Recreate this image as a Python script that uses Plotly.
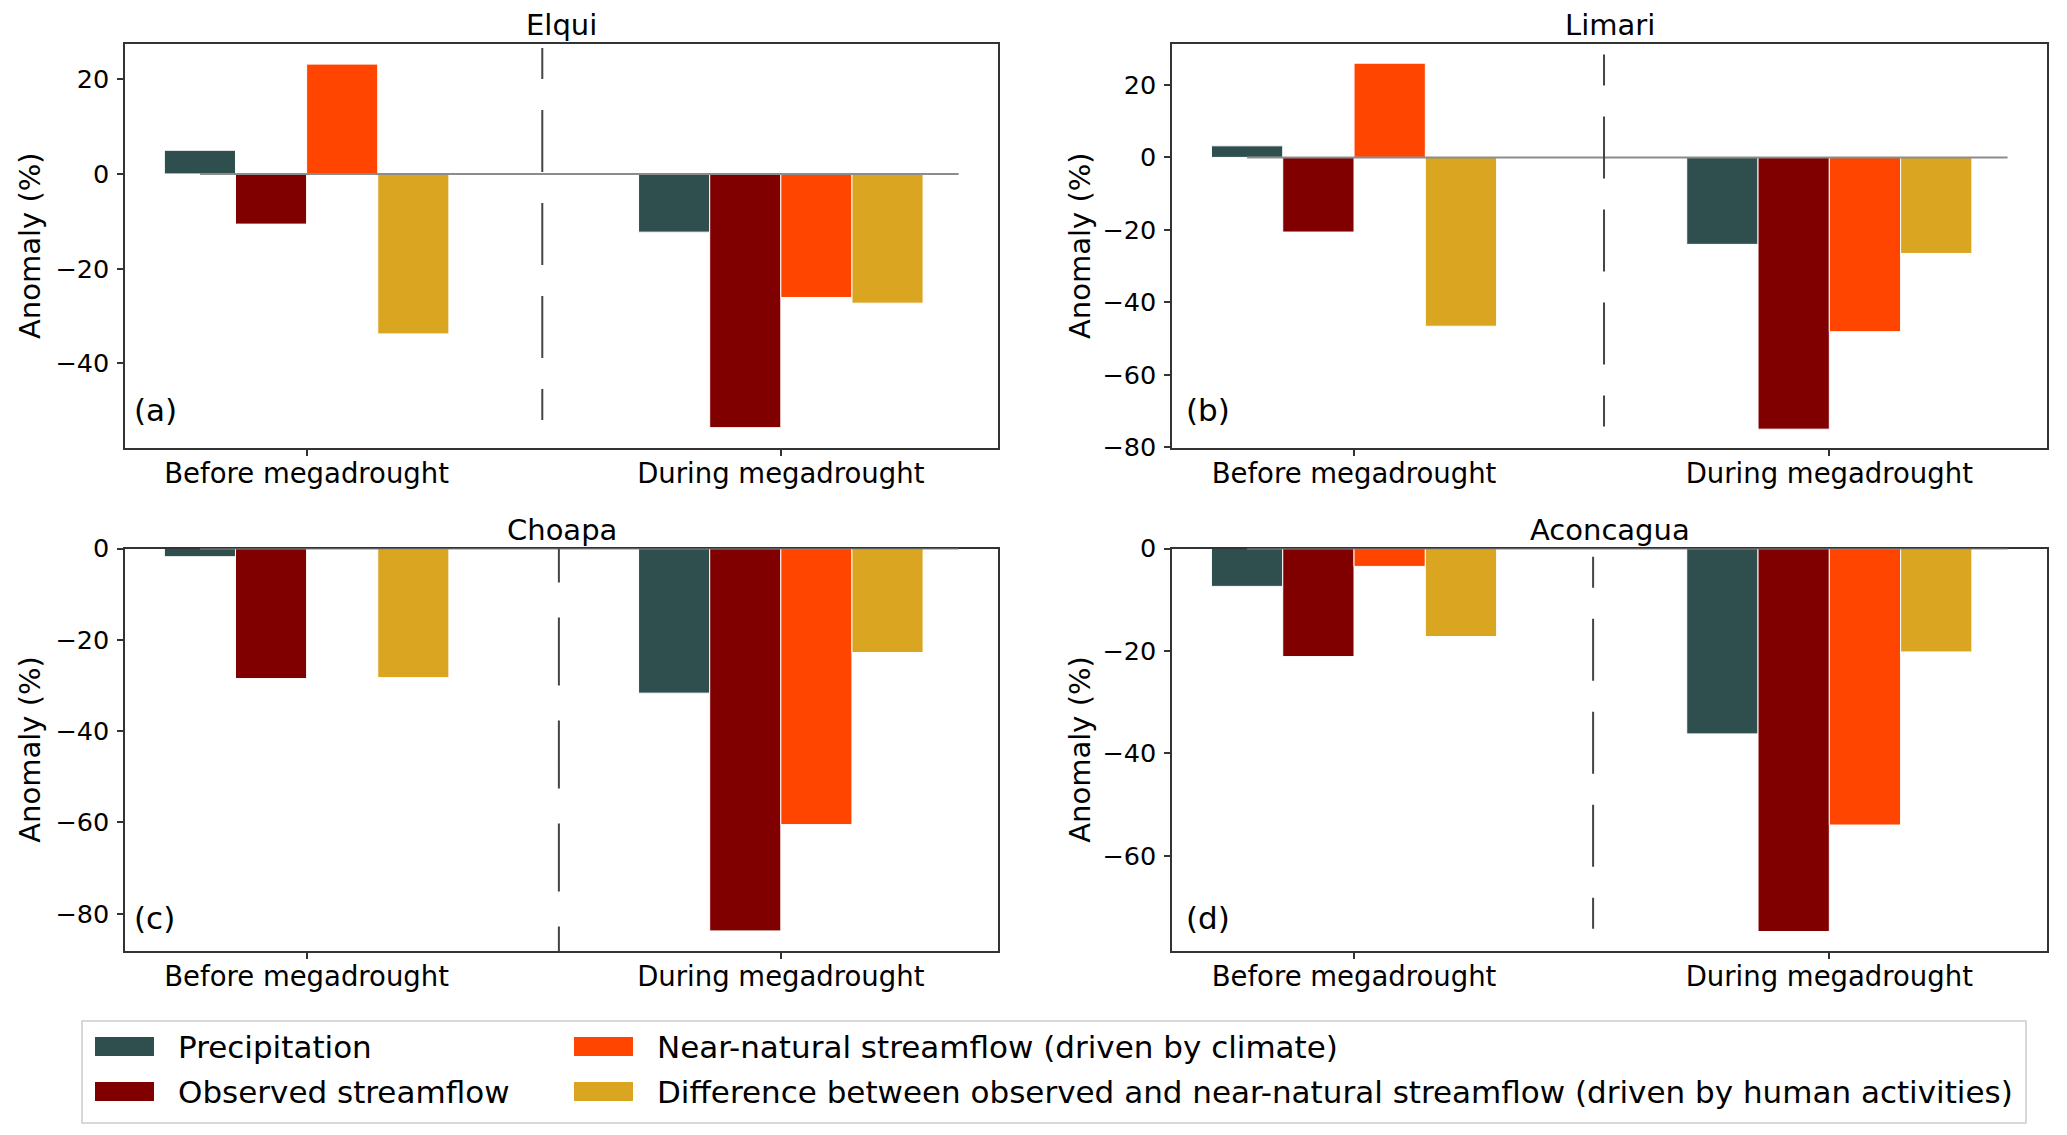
import plotly.graph_objects as go
from plotly.subplots import make_subplots

categories = ["Before megadrought", "During megadrought"]
basins = ["Elqui", "Limari", "Choapa", "Aconcagua"]
panel_labels = ["(a)", "(b)", "(c)", "(d)"]

series_names = [
    "Precipitation",
    "Observed streamflow",
    "Near-natural streamflow (driven by climate)",
    "Difference between observed and near-natural streamflow (driven by human activities)",
]
series_colors = ["#2f4f4f", "#800000", "#ff4500", "#daa520"]

# anomaly (%) per basin, [before, during]
precipitation = [[5.0, -12.3], [3.2, -24.0], [-1.8, -31.7], [-7.4, -36.2]]
observed = [[-10.6, -53.6], [-20.6, -75.0], [-28.5, -83.8], [-21.1, -74.8]]
near_natural = [[23.2, -26.1], [26.0, -48.1], [-0.2, -60.5], [-3.5, -54.0]]
difference = [[-33.8, -27.3], [-46.6, -26.5], [-28.3, -22.8], [-17.2, -20.2]]

# axis limits and the dashed separator of each panel
y_ranges = [[-57.9, 27.45], [-80.2, 31.3], [-88.2, 0], [-78.6, 0]]
sep_x = [0.497, 0.526, 0.532, 0.503]
sep_y = [[26.6, -52.6], [28.4, -75.5], [0, -90], [-1.6, -75.6]]

W, H = 2067, 1135
FONT = "DejaVu Sans"
series = [precipitation, observed, near_natural, difference]


def dash_pattern(dash, gap):
    # half dash at both ends, like the original separators
    parts = [dash / 2, gap] + [dash, gap] * 3 + [dash / 2, gap]
    return ",".join(f"{p:g}px" for p in parts)


sep_dash = [dash_pattern(62, 31), dash_pattern(62, 31), dash_pattern(68, 35), dash_pattern(62, 31)]

fig = make_subplots(rows=2, cols=2)

for i, basin in enumerate(basins):
    row, col = i // 2 + 1, i % 2 + 1
    for name, vals, color in zip(series_names, series, series_colors):
        fig.add_trace(go.Bar(x=categories, y=vals[i], name=name,
                             marker=dict(color=color, line=dict(color="white", width=1)),
                             showlegend=False), row=row, col=col)

x_domains = [[125 / W, 998 / W], [1172 / W, 2047 / W]]
y_domains = [[1 - 448 / H, 1 - 44 / H], [1 - 951 / H, 1 - 548.5 / H]]
ylab_shift = [-95, -92, -95, -92]
plab_shift = [(7, 38), (12, 38), (7, 33), (12, 33)]

shapes = []
annotations = []
for i, basin in enumerate(basins):
    s = "" if i == 0 else str(i + 1)
    fig.layout["xaxis" + s].update(
        domain=x_domains[i % 2], range=[-0.383, 1.458], type="category",
        showline=True, mirror=True, linecolor="#333333", linewidth=1.5,
        ticks="outside", ticklen=6, tickwidth=1.5, tickcolor="#333333",
        ticklabelstandoff=-6,
        tickfont=dict(family=FONT, size=27.5, color="black"),
        showgrid=False, zeroline=False, automargin=False)
    fig.layout["yaxis" + s].update(
        domain=y_domains[i // 2], range=y_ranges[i], tick0=0, dtick=20,
        showline=True, mirror=True, linecolor="#333333", linewidth=1.5,
        ticks="outside", ticklen=6, tickwidth=1.5, tickcolor="#333333",
        ticklabelstandoff=3,
        tickfont=dict(family=FONT, size=25.5, color="black"),
        showgrid=False, zeroline=False, automargin=False)

    # zero line and dashed separator
    shapes.append(dict(type="line", xref="x" + s, yref="y" + s, x0=-0.225, x1=1.375,
                       y0=0, y1=0, line=dict(color="#8c8c8c", width=2), layer="above"))
    shapes.append(dict(type="line", xref="x" + s, yref="y" + s, x0=sep_x[i], x1=sep_x[i],
                       y0=sep_y[i][0], y1=sep_y[i][1],
                       line=dict(color="#444444", width=2, dash=sep_dash[i]), layer="above"))

    annotations.append(dict(text=basin, xref="x" + s + " domain", yref="y" + s + " domain",
                            x=0.5, y=1, xanchor="center", yanchor="middle", yshift=19,
                            showarrow=False, font=dict(family=FONT, size=29, color="black")))
    annotations.append(dict(text="Anomaly (%)", xref="x" + s + " domain", yref="y" + s + " domain",
                            x=0, y=0.5, xanchor="center", yanchor="middle", xshift=ylab_shift[i],
                            textangle=-90, showarrow=False,
                            font=dict(family=FONT, size=29, color="black")))
    annotations.append(dict(text=panel_labels[i], xref="x" + s + " domain", yref="y" + s + " domain",
                            x=0, y=0, xanchor="left", yanchor="middle",
                            xshift=plab_shift[i][0], yshift=plab_shift[i][1],
                            showarrow=False, font=dict(family=FONT, size=31, color="black")))

# legend box drawn by hand so the swatches match the original
shapes.append(dict(type="rect", xref="paper", yref="paper", x0=82 / W, x1=2026 / W,
                   y0=1 - 1123 / H, y1=1 - 1021 / H,
                   line=dict(color="#cccccc", width=1.5), fillcolor="white"))
leg_x = [95, 95, 574, 574]
leg_y = [1046.5, 1091.5, 1046.5, 1091.5]
for name, color, lx, ly in zip(series_names, series_colors, leg_x, leg_y):
    shapes.append(dict(type="rect", xref="paper", yref="paper", x0=lx / W, x1=(lx + 59) / W,
                       y0=1 - (ly + 9.5) / H, y1=1 - (ly - 9.5) / H,
                       line=dict(width=0), fillcolor=color))
    annotations.append(dict(text=name, xref="paper", yref="paper", x=(lx + 81) / W, y=1 - ly / H,
                            xanchor="left", yanchor="middle", showarrow=False,
                            font=dict(family=FONT, size=31, color="black")))

fig.update_layout(
    width=W, height=H, template="none",
    margin=dict(l=0, r=0, t=0, b=0),
    paper_bgcolor="white", plot_bgcolor="white",
    barmode="group", bargap=0.4, bargroupgap=0,
    shapes=shapes, annotations=annotations,
    showlegend=False,
)

fig.write_html("out.html", config={"displayModeBar": False},
               post_script="document.body.style.margin = '0';")
